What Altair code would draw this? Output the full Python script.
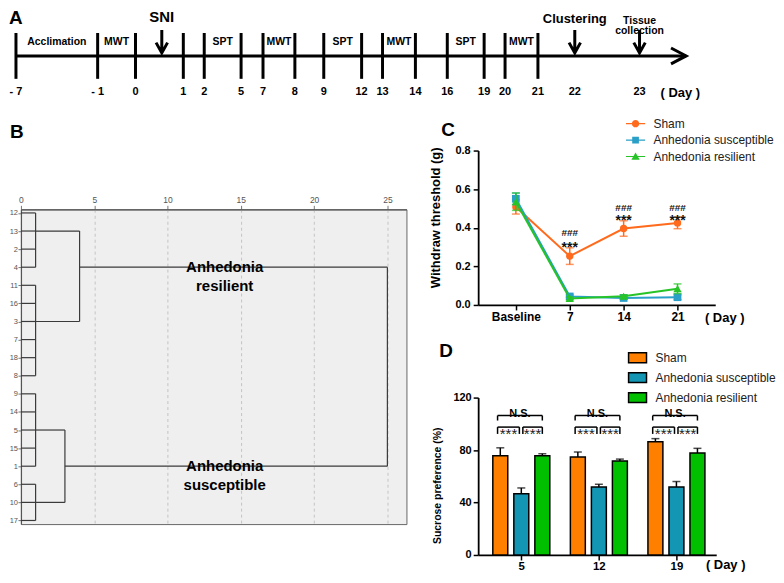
import altair as alt
import pandas as pd

FONT = "Liberation Sans"

# ---------------- Panel A: experimental timeline ----------------
tl_days = [-7, -1, 0, 1, 2, 5, 7, 8, 9, 12, 13, 14, 16, 19, 20, 21, 22, 23]
tl_labels = ["- 7", "- 1", "0", "1", "2", "5", "7", "8", "9", "12", "13", "14",
             "16", "19", "20", "21", "22", "23"]
tl_tick_days = [-7, -1, 0, 1, 2, 5, 7, 8, 9, 12, 13, 14, 16, 19, 20, 21]
tl_end_day = 23.72
seg_start = [-7, -1, 2, 7, 9, 13, 16, 20]
seg_end = [-1, 0, 5, 8, 12, 14, 19, 21]
seg_names = ["Acclimation", "MWT", "SPT", "MWT", "SPT", "MWT", "SPT", "MWT"]
event_names = ["SNI", "Clustering", "Tissue\ncollection"]
event_days = [0.55, 22, 23]
# piecewise (irregular) layout of the timeline axis, in px of the panel
tl_range = [7, 89, 127, 175, 196, 233, 255, 287, 316, 354, 375, 408, 440, 477,
            498, 531, 568, 633]

# ---------------- Panel B: dendrogram ----------------
leaf_order = ["12", "13", "2", "4", "11", "16", "3", "7", "18", "8", "9", "14",
              "5", "15", "1", "6", "10", "17"]
first_groups = [["12", "13", "2", "4"], ["11", "16", "3", "7", "18", "8"],
                ["9", "14", "5", "15", "1"], ["6", "10", "17"]]
first_height = 1.0
second_merges = [("13", "3", 4.0, "4"), ("5", "10", 3.0, "1")]
final_height = 25.0
cluster_names = ["Anhedonia\nresilient", "Anhedonia\nsusceptible"]
cluster_leaf = ["4", "1"]
cluster_label_x = 13.9
dist_ticks = [0, 5, 10, 15, 20, 25]
dist_max = 26.3

# ---------------- Panel C: withdraw threshold ----------------
c_times = ["Baseline", "7", "14", "21"]
series = ["Sham", "Anhedonia susceptible", "Anhedonia resilient"]
c_colors = ["#FF6A1C", "#2A9FC8", "#27C427"]
c_shapes = ["circle", "square", "triangle-up"]
c_mean = [[0.508, 0.253, 0.396, 0.425],
          [0.550, 0.044, 0.036, 0.040],
          [0.535, 0.034, 0.045, 0.084]]
c_err = [[0.037, 0.043, 0.040, 0.030],
         [0.030, 0.008, 0.006, 0.012],
         [0.045, 0.008, 0.008, 0.025]]
c_sig_times = ["7", "14", "21"]
c_hash_y = [0.372, 0.50, 0.50]
c_star_y = [0.294, 0.4335, 0.4335]

# ---------------- Panel D: sucrose preference ----------------
d_days = ["5", "12", "19"]
d_colors = ["#FF8000", "#1396B4", "#00C000"]
d_mean = [[75.7, 74.7, 86.4],
          [46.6, 51.9, 51.9],
          [75.7, 71.6, 77.7]]
d_err = [[6.0, 3.8, 2.3],
         [4.5, 2.0, 4.1],
         [1.5, 1.5, 3.6]]
d_brackets = [("Sham", "Anhedonia resilient", "N.S.", 106.3, 102.5),
              ("Sham", "Anhedonia susceptible", "***", 97.5, 92.3),
              ("Anhedonia susceptible", "Anhedonia resilient", "***", 97.5, 92.3)]

one = pd.DataFrame({"k": [0]})


def letter(t, x, y):
    return alt.Chart(one).mark_text(text=t, fontSize=19, fontWeight="bold", align="left",
                                    baseline="top", color="black").encode(
        x=alt.value(x), y=alt.value(y))


# ================= A =================
xs_a = alt.Scale(domain=tl_days, range=tl_range, nice=False, zero=False)


def xa(f):
    return alt.X(f + ":Q", scale=xs_a, axis=None)


RIGHT_HEAD = "M-0.9,-1L1,0L-0.9,1"
DOWN_ARROW = "M0,-1L0,1M-0.5,0.1L0,1L0.5,0.1"

a_line = alt.Chart(pd.DataFrame({"d0": [tl_days[0]], "d1": [tl_end_day]})).mark_rule(
    color="black", strokeWidth=3).encode(x=xa("d0"), x2=alt.X2("d1"), y=alt.value(47))
a_head = alt.Chart(pd.DataFrame({"day": [tl_end_day]})).mark_point(
    shape=RIGHT_HEAD, size=256, filled=False, color="black", strokeWidth=3, opacity=1,
    xOffset=-8, strokeJoin="miter").encode(x=xa("day"), y=alt.value(47))
a_ticks = alt.Chart(pd.DataFrame({"day": tl_tick_days})).mark_rule(
    color="black", strokeWidth=3).encode(x=xa("day"), y=alt.value(24), y2=alt.value(70))
a_labels = alt.Chart(pd.DataFrame({"day": tl_days, "lab": tl_labels})).mark_text(
    fontSize=11, fontWeight="bold", baseline="middle", color="black").encode(
    x=xa("day"), y=alt.value(83), text="lab:N")
a_seg = alt.Chart(pd.DataFrame({"s": seg_start, "e": seg_end, "name": seg_names})
                  ).transform_calculate(mid="(datum.s + datum.e) / 2").mark_text(
    fontSize=10.5, fontWeight="bold", baseline="middle", color="black").encode(
    x=xa("mid"), y=alt.value(33), text="name:N")
ev = pd.DataFrame({"day": event_days, "name": event_names, "i": [0, 1, 2]})
a_arrows = alt.Chart(ev).mark_point(
    shape=DOWN_ARROW, size=529, filled=False, color="black", strokeWidth=3, opacity=1,
    strokeJoin="miter").encode(x=xa("day"), y=alt.value(32.5))
a_sni = alt.Chart(ev).transform_filter(alt.datum.i == 0).mark_text(
    fontSize=15, fontWeight="bold", baseline="middle", color="black").encode(
    x=xa("day"), y=alt.value(8), text="name:N")
a_clu = alt.Chart(ev).transform_filter(alt.datum.i == 1).mark_text(
    fontSize=13, fontWeight="bold", baseline="middle", color="black").encode(
    x=xa("day"), y=alt.value(10), text="name:N")
a_tis = alt.Chart(ev).transform_filter(alt.datum.i == 2).mark_text(
    fontSize=10.5, fontWeight="bold", baseline="middle", lineBreak="\n", lineHeight=10.5,
    color="black").encode(x=xa("day"), y=alt.value(11.5), text="name:N")
a_day = alt.Chart(one).mark_text(text="( Day )", fontSize=13, fontWeight="bold",
                                 baseline="middle", color="black").encode(
    x=alt.value(674), y=alt.value(84))

A = alt.layer(a_line, a_ticks, a_head, a_labels, a_seg, a_arrows, a_sni, a_clu, a_tis,
              a_day, letter("A", 0, 0)).properties(width=768, height=100)

# ================= B =================
idx = {l: i for i, l in enumerate(leaf_order)}
segs = []
for g in first_groups:
    for m in g:
        segs.append((0.0, first_height, m, m))
    segs.append((first_height, first_height, g[0], g[-1]))
for a, b, h, anc in second_merges:
    segs += [(first_height, h, a, a), (first_height, h, b, b), (h, h, a, b)]
(_, _, h1, anc1), (_, _, h2, anc2) = second_merges
segs += [(h1, final_height, anc1, anc1), (h2, final_height, anc2, anc2),
         (final_height, final_height, anc1, anc2)]
b_df = pd.DataFrame([(x1, x2, idx[l1], idx[l2]) for x1, x2, l1, l2 in segs],
                    columns=["x1", "x2", "i1", "i2"])

LEAF_PAD = 0.2
n_leaf = len(leaf_order)
xs_b = alt.Scale(domain=[0, dist_max], nice=False, zero=False)
ys_b = alt.Scale(domain=[-LEAF_PAD, n_leaf - 1 + LEAF_PAD], reverse=True, nice=False,
                 zero=False)
leaf_expr = "[" + ",".join("'%s'" % l for l in leaf_order) + "][datum.value]"
xb_axis = alt.Axis(orient="top", values=dist_ticks, title=None, grid=True, gridDash=[3, 3],
                   gridColor="#c4c4c4", labelFontSize=8.5, labelColor="#555", tickSize=4,
                   tickColor="#777", domainColor="#555", domainWidth=1.2, labelPadding=1,
                   labelFlush=False)
yb_axis = alt.Axis(title=None, values=list(range(n_leaf)), labelExpr=leaf_expr,
                   labelFontSize=7.5, labelColor="#555", tickSize=3, tickColor="#777",
                   domainColor="#555", domainWidth=1.2, labelPadding=0.5, grid=False)


def xb(f):
    return alt.X(f + ":Q", scale=xs_b, axis=xb_axis)


def yb(f):
    return alt.Y(f + ":Q", scale=ys_b, axis=yb_axis)


b_links = alt.Chart(b_df).mark_rule(color="#3a3a3a", strokeWidth=1.2).encode(
    x=xb("x1"), x2=alt.X2("x2"), y=yb("i1"), y2=alt.Y2("i2"))
b_text = alt.Chart(pd.DataFrame({"x": [cluster_label_x] * 2,
                                 "i": [idx[l] for l in cluster_leaf],
                                 "name": cluster_names})).mark_text(
    fontSize=15, fontWeight="bold", lineBreak="\n", lineHeight=19, baseline="middle",
    color="black").encode(x=xb("x"), y=yb("i"), text="name:N")
B = alt.layer(b_links, b_text, letter("B", -11, -87)).properties(
    width=387, height=316,
    view=alt.ViewBackground(fill="#efefef", stroke="#666", strokeWidth=1))

# ================= C =================
rows = []
for s, name in enumerate(series):
    for t, tp in enumerate(c_times):
        m, e = c_mean[s][t], c_err[s][t]
        rows.append({"series": name, "tp": tp, "mean": m, "lo": m - e, "hi": m + e})
c_df = pd.DataFrame(rows)

x_axis_c = alt.Axis(title="( Day )", titleX=247, titleY=13, titleAlign="center",
                    titleBaseline="middle", titleFontSize=13, titleFontWeight="bold",
                    titleColor="black", labelFontSize=12, labelFontWeight="bold",
                    labelColor="black", labelAngle=0, tickSize=5, tickWidth=1.5,
                    tickColor="black", domainColor="black", domainWidth=1.8, labelPadding=2)
y_axis_c = alt.Axis(title="Withdraw threshold (g)", titleX=-43, titleY=67,
                    titleAlign="center", titleBaseline="middle", titleFontSize=13,
                    titleFontWeight="bold", titleColor="black",
                    values=[0, 0.2, 0.4, 0.6, 0.8], format=".1f", labelFontSize=11,
                    labelFontWeight="bold", labelColor="black", tickSize=5, tickWidth=1.5,
                    tickColor="black", domainColor="black", domainWidth=1.8,
                    labelPadding=3, grid=False)
xs_c = alt.Scale(type="point", domain=c_times, padding=0.7)
ys_c = alt.Scale(domain=[0, 0.8], nice=False)


def xc():
    return alt.X("tp:N", scale=xs_c, axis=x_axis_c)


def yc(f):
    return alt.Y(f + ":Q", scale=ys_c, axis=y_axis_c)


c_layers = []
sizes = [55, 60, 70]
for s, name in enumerate(series):
    base = alt.Chart(c_df).transform_filter(alt.datum.series == name)
    col = c_colors[s]
    c_layers += [
        base.mark_line(color=col, strokeWidth=2).encode(x=xc(), y=yc("mean")),
        base.mark_rule(color=col, strokeWidth=1.5).encode(x=xc(), y=yc("lo"), y2=alt.Y2("hi")),
        base.mark_tick(color=col, thickness=1.5, size=8, orient="horizontal").encode(
            x=xc(), y=yc("lo")),
        base.mark_tick(color=col, thickness=1.5, size=8, orient="horizontal").encode(
            x=xc(), y=yc("hi")),
        base.mark_point(shape=c_shapes[s], filled=True, size=sizes[s], color=col,
                        opacity=1).encode(x=xc(), y=yc("mean")),
    ]

LINE = "M-1.2,-0.07L1.2,-0.07L1.2,0.07L-1.2,0.07Z"
c_legend_paths = [LINE + "M0.46,0A0.46,0.46 0 1,1 -0.46,0A0.46,0.46 0 1,1 0.46,0Z",
                  LINE + "M-0.42,-0.42L0.42,-0.42L0.42,0.42L-0.42,0.42Z",
                  LINE + "M0,-0.5L0.52,0.42L-0.52,0.42Z"]
leg_c = alt.Legend(title=None, orient="none", legendX=150, legendY=-35, symbolSize=256,
                   labelFontSize=12, labelColor="#222", labelOffset=10, rowPadding=2.5,
                   symbolOpacity=1, symbolStrokeWidth=0, padding=0)
c_layers.append(alt.Chart(c_df).mark_point(filled=True, opacity=0).encode(
    x=xc(), y=yc("mean"),
    color=alt.Color("series:N", scale=alt.Scale(domain=series, range=c_colors), legend=leg_c),
    shape=alt.Shape("series:N", scale=alt.Scale(domain=series, range=c_legend_paths),
                    legend=leg_c)))
c_sig = pd.DataFrame({"tp": c_sig_times, "hy": c_hash_y, "sy": c_star_y})
c_layers.append(alt.Chart(c_sig).mark_text(text="###", fontSize=10, fontWeight="bold",
                                           color="#111").encode(x=xc(), y=yc("hy")))
c_layers.append(alt.Chart(c_sig).mark_text(text="***", fontSize=14, fontWeight="bold",
                                           color="#111").encode(x=xc(), y=yc("sy")))
c_layers.append(letter("C", -37, -30))
C = alt.layer(*c_layers).properties(width=238, height=155)

# ================= D =================
bar_step = 0.271  # distance between bar centres, in group units
rows = []
for s, name in enumerate(series):
    for g, day in enumerate(d_days):
        m, e = d_mean[s][g], d_err[s][g]
        rows.append({"series2": name, "xpos": g + (s - 1) * bar_step, "mean": m, "hi": m + e})
d_df = pd.DataFrame(rows)

brows, trows = [], []
for g in range(len(d_days)):
    for a, b, lab, top, low in d_brackets:
        xa_ = g + (series.index(a) - 1) * bar_step
        xb_ = g + (series.index(b) - 1) * bar_step
        if a == "Sham":
            xa_ -= 0.035
        else:
            xa_ += 0.02
        if b == "Anhedonia susceptible":
            xb_ -= 0.025
        brows += [(xa_, xb_, top, top), (xa_, xa_, low, top), (xb_, xb_, low, top)]
        trows.append({"x": (xa_ + xb_) / 2, "y": top, "lab": lab})
br_df = pd.DataFrame(brows, columns=["x1", "x2", "y1", "y2"])
tx_df = pd.DataFrame(trows)

day_expr = "[" + ",".join("'%s'" % d for d in d_days) + "][datum.value]"
x_axis_d = alt.Axis(values=list(range(len(d_days))), labelExpr=day_expr, title="( Day )",
                    titleX=248, titleY=10, titleAlign="center", titleBaseline="middle",
                    titleFontSize=13, titleFontWeight="bold", titleColor="black",
                    labelFontSize=11.5, labelFontWeight="bold", labelColor="black",
                    tickSize=5, tickWidth=1.5, tickColor="black", domainColor="black",
                    domainWidth=1.8, labelPadding=1, grid=False, labelFlush=False)
y_axis_d = alt.Axis(title="Sucrose preference  (%)", titleX=-41, titleY=88,
                    titleAlign="center", titleBaseline="middle", titleFontSize=10.5,
                    titleFontWeight="bold", titleColor="black", values=[0, 40, 80, 120],
                    labelFontSize=11, labelFontWeight="bold", labelColor="black",
                    tickSize=5, tickWidth=1.5, tickColor="black", domainColor="black",
                    domainWidth=1.8, labelPadding=2, grid=False)
xs_d = alt.Scale(domain=[-0.492, 2.449], nice=False, zero=False)
ys_d = alt.Scale(domain=[0, 120], nice=False)


def xd(f):
    return alt.X(f + ":Q", scale=xs_d, axis=x_axis_d)


def yd(f):
    return alt.Y(f + ":Q", scale=ys_d, axis=y_axis_d, stack=None)


leg_d = alt.Legend(title=None, orient="none", legendX=150, legendY=-50,
                   symbolType="M-1,-0.55L1,-0.55L1,0.55L-1,0.55Z", symbolSize=324,
                   symbolStrokeColor="black", symbolStrokeWidth=1.5, labelFontSize=12,
                   labelColor="#222", labelOffset=8, rowPadding=2, padding=0)
d_bars = alt.Chart(d_df).mark_bar(size=15, stroke="black", strokeWidth=1.5).encode(
    x=xd("xpos"), y=yd("mean"),
    color=alt.Color("series2:N", scale=alt.Scale(domain=series, range=d_colors),
                    legend=leg_d))
d_err_r = alt.Chart(d_df).mark_rule(color="black", strokeWidth=1.5).encode(
    x=xd("xpos"), y=yd("mean"), y2=alt.Y2("hi"))
d_cap = alt.Chart(d_df).mark_tick(color="black", thickness=1.5, size=8,
                                  orient="horizontal").encode(x=xd("xpos"), y=yd("hi"))
d_br = alt.Chart(br_df).mark_rule(color="black", strokeWidth=1.5).encode(
    x=xd("x1"), x2=alt.X2("x2"), y=yd("y1"), y2=alt.Y2("y2"))
d_ns = alt.Chart(tx_df).transform_filter(alt.datum.lab == "N.S.").mark_text(
    fontSize=11, fontWeight="bold", dy=-2, color="black").encode(
    x=xd("x"), y=yd("y"), text="lab:N")
d_st = alt.Chart(tx_df).transform_filter(alt.datum.lab == "***").mark_text(
    fontSize=15, dy=7, color="#222").encode(x=xd("x"), y=yd("y"), text="lab:N")
D = alt.layer(d_bars, d_err_r, d_cap, d_br, d_ns, d_st, letter("D", -39, -56)).properties(
    width=239, height=158)


# ================= layout =================
def spacer(w, h):
    return alt.Chart(one).mark_point(opacity=0, size=1).encode(
        x=alt.value(0), y=alt.value(0)).properties(width=w, height=h)


def indep(ch):
    return ch.resolve_scale(color="independent", shape="independent").resolve_legend(
        color="independent", shape="independent")


# column B: 59 px gap above the dendrogram frame
colB = alt.vconcat(spacer(387, 59), B, spacing=0, bounds="flush")
colCD = indep(alt.vconcat(C, D, spacing=93, bounds="flush"))
# (a nested column contributes no width to the flush row, hence the wide gap spacer)
row2 = indep(alt.hconcat(spacer(12, 10), colB, spacer(459, 10), colCD, spacing=0,
                         bounds="flush"))
chart = indep(alt.vconcat(A, row2, spacing=42, bounds="flush")).properties(
    padding=0, background="white"
).configure(font=FONT).configure_view(strokeWidth=0).configure_axis(
    labelFont=FONT, titleFont=FONT).configure_legend(labelFont=FONT).configure_text(font=FONT)

chart.save("out.html", embed_options={"renderer": "svg", "actions": False})
